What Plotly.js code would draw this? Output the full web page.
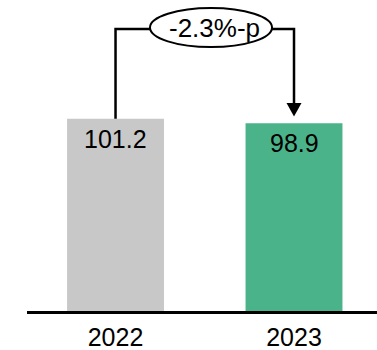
<!DOCTYPE html>
<html>
<head>
<meta charset="utf-8">
<script src="https://cdn.plot.ly/plotly-3.0.1.min.js"></script>
<style>html,body{margin:0;padding:0;background:#fff;}#chart{width:377px;height:350px;}</style>
</head>
<body>
<div id="chart"></div>
<script>
const years = ['2022', '2023'];
const values = [101.2, 98.9];
const changeLabel = '-2.3%-p';
const barColors = ['#c8c8c8', '#4bb38a'];

const xPos = years.map((_, i) => i);
const yMax = 163.8;
const bracketY = 148.5;
const ellX0 = 0.193, ellX1 = 0.877, ellY0 = 139.0, ellY1 = 159.6;
const arrowBase = 109.5, arrowTip = values[1] + 3.6, arrowHalf = 0.042;
const lineStyle = {color: '#000', width: 2.5};
const font = 'Liberation Sans, Arial, sans-serif';

const data = [{
  type: 'bar',
  x: xPos,
  y: values,
  width: 0.543,
  marker: {color: barColors},
  hoverinfo: 'none'
}];

const shapes = [
  {type: 'path', xref: 'x', yref: 'y', line: lineStyle,
   path: `M 0,${values[0]} L 0,${bracketY} L ${ellX0},${bracketY}`},
  {type: 'path', xref: 'x', yref: 'y', line: lineStyle,
   path: `M ${ellX1},${bracketY} L 1,${bracketY} L 1,${arrowBase}`},
  {type: 'path', xref: 'x', yref: 'y', line: {width: 0}, fillcolor: '#000',
   path: `M ${1 - arrowHalf},${arrowBase} L ${1 + arrowHalf},${arrowBase} L 1,${arrowTip} Z`},
  {type: 'circle', xref: 'x', yref: 'y', x0: ellX0, x1: ellX1, y0: ellY0, y1: ellY1,
   line: {color: '#000', width: 2}, fillcolor: '#fff'}
];

const annotations = values.map((v, i) => ({
  x: xPos[i], y: v, xref: 'x', yref: 'y', text: String(v),
  showarrow: false, yanchor: 'middle', yshift: -20,
  font: {family: font, size: 25, color: '#000'}
}));
annotations.push({
  x: (ellX0 + ellX1) / 2 + 0.02, y: (ellY0 + ellY1) / 2, xref: 'x', yref: 'y',
  text: changeLabel, showarrow: false, yanchor: 'middle',
  font: {family: font, size: 26, color: '#000'}
});

const layout = {
  width: 377, height: 350,
  margin: {l: 27, r: 0, t: 0, b: 39},
  paper_bgcolor: '#fff', plot_bgcolor: '#fff',
  showlegend: false,
  xaxis: {
    range: [-0.496, 1.465], tickvals: xPos, ticktext: years,
    showline: true, linecolor: '#000', linewidth: 2.5,
    showgrid: false, zeroline: false, ticks: '',
    ticklabelstandoff: 2,
    tickfont: {family: font, size: 25, color: '#000'}
  },
  yaxis: {range: [0, yMax], visible: false, fixedrange: true},
  shapes: shapes,
  annotations: annotations
};

Plotly.newPlot('chart', data, layout, {staticPlot: true});
</script>
</body>
</html>
